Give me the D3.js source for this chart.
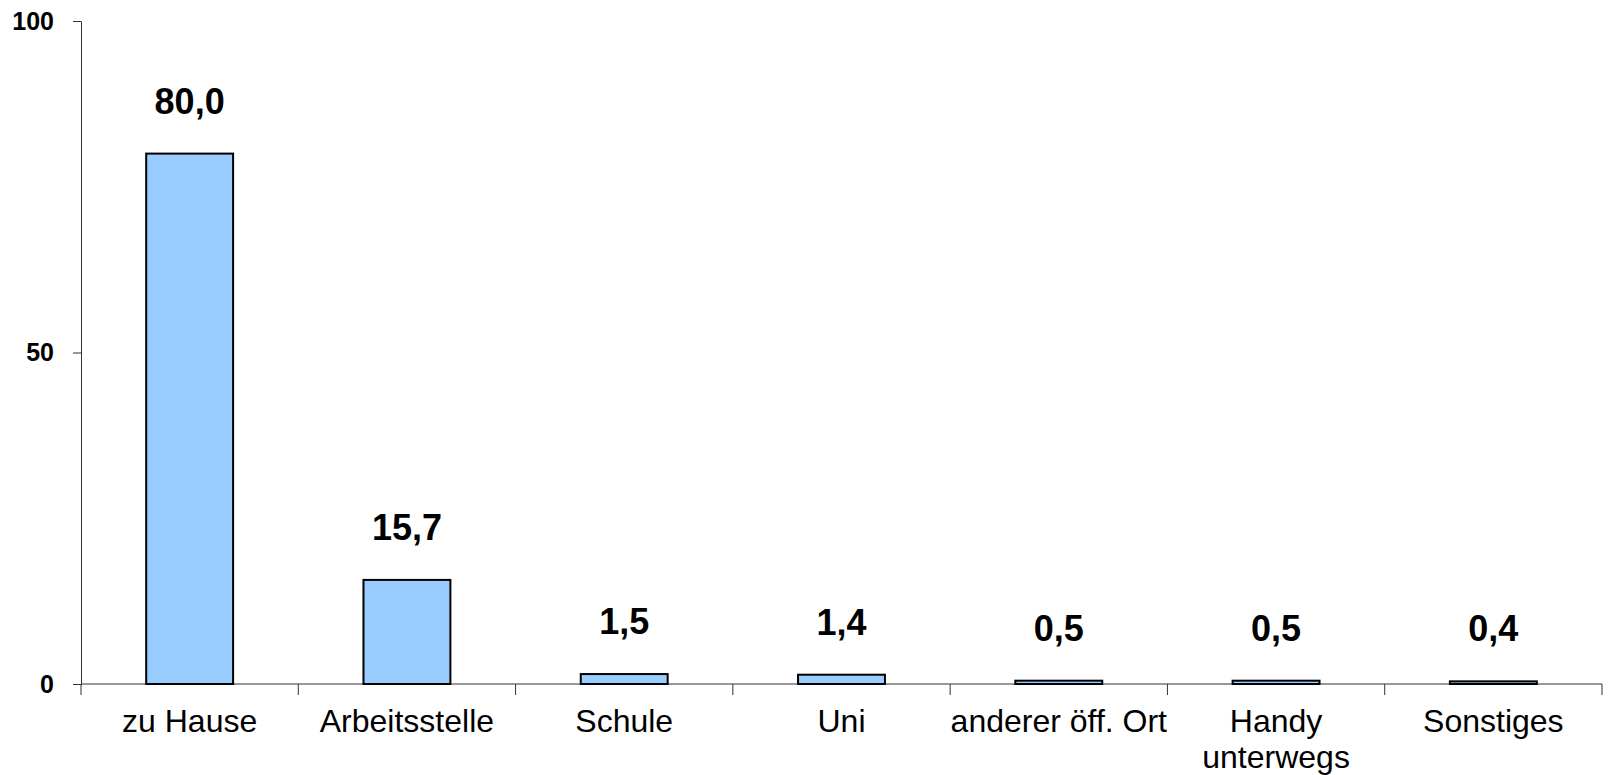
<!DOCTYPE html>
<html>
<head>
<meta charset="utf-8">
<script src="https://cdn.jsdelivr.net/npm/d3@7"></script>
<style>
  html, body { margin: 0; padding: 0; background: #fff; }
  svg { display: block; font-family: "Liberation Sans", Arial, sans-serif; }
</style>
</head>
<body>
<div id="chart"></div>
<script>
// Daten
const categories = ["zu Hause", "Arbeitsstelle", "Schule", "Uni", "anderer öff. Ort", "Handy unterwegs", "Sonstiges"];
const categoryLines = [["zu Hause"], ["Arbeitsstelle"], ["Schule"], ["Uni"], ["anderer öff. Ort"], ["Handy", "unterwegs"], ["Sonstiges"]];
const values = [80.0, 15.7, 1.5, 1.4, 0.5, 0.5, 0.4];
const yTicks = [0, 50, 100];

const width = 1610, height = 775;
const margin = { top: 21, right: 8, bottom: 91, left: 81 };

const svg = d3.select("#chart").append("svg")
    .attr("width", width)
    .attr("height", height);

const x = d3.scaleBand()
    .domain(categories)
    .range([margin.left, width - margin.right])
    .padding(0);

const y = d3.scaleLinear()
    .domain([0, 100])
    .range([height - margin.bottom, margin.top]);

const step = x.step();
const barW = step * 0.4;
const fmt = v => v.toFixed(1).replace(".", ",");

// Y-Achse
const yAxis = svg.append("g")
    .attr("transform", `translate(${margin.left},0)`)
    .call(d3.axisLeft(y).tickValues(yTicks).tickSize(8).tickPadding(19).tickSizeOuter(0));
yAxis.select(".domain").attr("stroke", "#333");
yAxis.selectAll(".tick line").attr("stroke", "#333");
yAxis.selectAll(".tick text")
    .attr("fill", "#000")
    .style("font-size", "25px")
    .style("font-weight", "bold")
    .style("font-family", "'Liberation Sans', Arial, sans-serif");

// X-Achse
const x0 = y(0);
svg.append("line")
    .attr("x1", margin.left).attr("x2", width - margin.right)
    .attr("y1", x0).attr("y2", x0)
    .attr("stroke", "#333").attr("stroke-width", 1);

const boundaries = categories.map(c => x(c)).concat([x(categories[categories.length - 1]) + step]);
svg.append("g").selectAll("line")
    .data(boundaries)
    .join("line")
    .attr("x1", d => d).attr("x2", d => d)
    .attr("y1", x0).attr("y2", x0 + 11)
    .attr("stroke", "#333").attr("stroke-width", 1);

// Balken
svg.append("g").selectAll("rect")
    .data(values)
    .join("rect")
    .attr("x", (d, i) => x(categories[i]) + (step - barW) / 2)
    .attr("width", barW)
    .attr("y", d => y(d))
    .attr("height", d => y(0) - y(d))
    .attr("fill", "#99CCFF")
    .attr("stroke", "#000")
    .attr("stroke-width", 2);

// Werte
svg.append("g").selectAll("text")
    .data(values)
    .join("text")
    .attr("x", (d, i) => x(categories[i]) + step / 2)
    .attr("y", d => y(d) - 40)
    .attr("text-anchor", "middle")
    .style("font-size", "36px")
    .style("font-weight", "bold")
    .attr("fill", "#000")
    .text(d => fmt(d));

// Kategorien
const catLabels = svg.append("g").selectAll("text")
    .data(categories)
    .join("text")
    .attr("x", d => x(d) + step / 2)
    .attr("y", 732)
    .attr("text-anchor", "middle")
    .style("font-size", "32px")
    .attr("fill", "#000");

catLabels.each(function(d, i) {
    d3.select(this).selectAll("tspan")
        .data(categoryLines[i])
        .join("tspan")
        .attr("x", x(d) + step / 2)
        .attr("dy", (t, j) => j === 0 ? 0 : 36)
        .text(t => t);
});
</script>
</body>
</html>
